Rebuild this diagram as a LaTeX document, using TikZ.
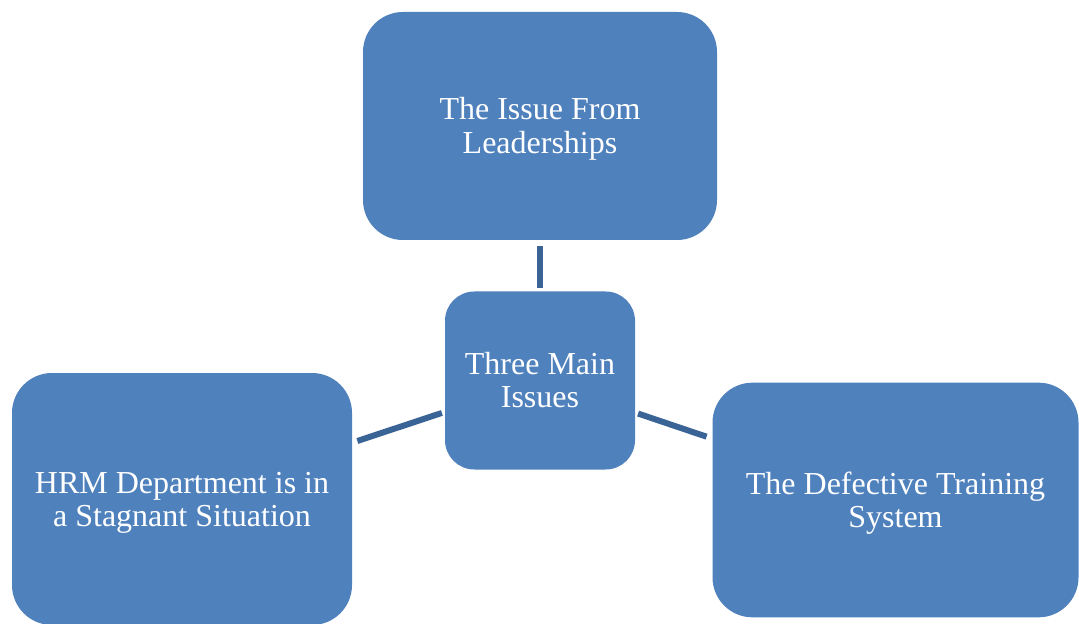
\documentclass[tikz,border=0pt]{standalone}
\usepackage{fontspec}
\setmainfont{Liberation Serif}
\definecolor{boxblue}{HTML}{4F81BD}
\definecolor{linkblue}{HTML}{3B6496}
\newcommand{\twolines}[2]{\raisebox{0pt}[\dimexpr\height+6pt\relax][\depth]{\begin{tabular}{@{}c@{}}#1\\#2\end{tabular}}}
\begin{document}
\begin{tikzpicture}[x=0.75pt,y=-0.75pt,
  issue/.style={fill=boxblue, draw=none, text=white, align=center, inner sep=0pt,
    font=\fontsize{24}{25}\selectfont},
  link/.style={draw=linkblue, line width=4.5pt}]
\useasboundingbox[fill=white] (0,0) rectangle (1079,624);
\node[issue, rounded corners=30pt, minimum width=265.5pt, minimum height=171pt] (top) at (540,126) {\twolines{The Issue From}{Leaderships}};
\node[issue, rounded corners=22pt, minimum width=142.5pt, minimum height=133.5pt] (mid) at (540,380.5) {\twolines{Three Main}{Issues}};
\node[issue, rounded corners=30pt, minimum width=255pt, minimum height=189pt] (left) at (182,499) {\twolines{HRM Department is in}{a Stagnant Situation}};
\node[issue, rounded corners=30pt, minimum width=274.5pt, minimum height=176pt] (right) at (895.5,500) {\twolines{The Defective Training}{System}};
\draw[link, shorten <=2.25pt, shorten >=4.5pt] (mid) -- (top);
\draw[link, shorten <=2.25pt, shorten >=4pt] (mid) -- (left);
\draw[link, shorten <=2.25pt, shorten >=4.5pt] (mid) -- (right);
\end{tikzpicture}
\end{document}
